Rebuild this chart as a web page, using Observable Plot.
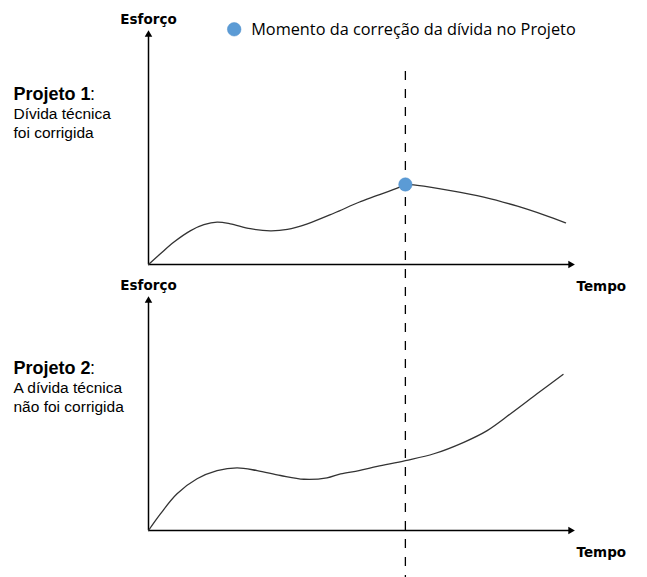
<!DOCTYPE html>
<html>
<head>
<meta charset="utf-8">
<script src="https://cdn.jsdelivr.net/npm/d3@7"></script>
<script src="https://cdn.jsdelivr.net/npm/@observablehq/plot@0.6"></script>
<style>
  html, body { margin: 0; padding: 0; background: #fff; }
  #chart svg { display: block; }
</style>
</head>
<body>
<div id="chart"></div>
<script>
// ---- Data ----
const projetos = ["Projeto 1", "Projeto 2"];
const descricoes = ["Dívida técnica\nfoi corrigida", "A dívida técnica\nnão foi corrigida"];
const eixoX = "Tempo";
const eixoY = "Esforço";
const legendaTexto = "Momento da correção da dívida no Projeto";

// Projeto 1: effort curve (debt corrected)
const tempo1 =   [0, 2.8, 5.9, 9.9, 13.0, 16.1, 19.2, 23.9, 28.6, 32.6, 37.3, 43.5, 49.4, 53.7, 58.8, 60.3, 63.1, 70.9, 78.7, 86.6, 92.8, 97.9];
const esforco1 = [0, 4.6, 9.5, 14.5, 17.0, 18.1, 17.4, 15.3, 14.4, 15.0, 17.4, 21.9, 26.6, 29.5, 33.0, 34.2, 33.8, 31.6, 28.8, 24.9, 21.2, 17.8];

// Projeto 2: effort curve (debt not corrected)
const tempo2 =   [0, 2.8, 6.7, 11.4, 16.1, 20.8, 25.5, 31.0, 36.5, 41.9, 45.1, 49.4, 53.7, 60.3, 67.0, 74.0, 79.5, 85.0, 91.2, 97.3];
const esforco2 = [0, 7.1, 15.7, 22.1, 25.6, 26.8, 25.6, 23.5, 21.9, 22.5, 24.2, 25.6, 27.4, 29.9, 32.8, 37.7, 42.7, 49.9, 58.4, 66.7];

// Moment of debt correction (Projeto 1)
const correcaoTempo = [60.3];
const correcaoEsforco = [34.2];

// ---- Tables built from the arrays ----
const curvas = [
  ...tempo1.map((t, i) => ({projeto: projetos[0], tempo: t, esforco: esforco1[i]})),
  ...tempo2.map((t, i) => ({projeto: projetos[1], tempo: t, esforco: esforco2[i]}))
];
const correcao = correcaoTempo.map((t, i) => ({projeto: projetos[0], tempo: t, esforco: correcaoEsforco[i]}));
const legenda = [{projeto: projetos[0], texto: legendaTexto}];

const labelFont = "DejaVu Sans, sans-serif";
const arialFont = "Liberation Sans, Arial, sans-serif";
const tituloDy = [69, 77.3];
const descDy = [107, 115];

const marks = [
  // axes
  Plot.ruleY([0], {stroke: "#000", strokeWidth: 1.5, insetRight: 4}),
  Plot.ruleX([0], {stroke: "#000", strokeWidth: 1.5, insetTop: 4}),
  Plot.dot([0], {y: d => d, frameAnchor: "right", symbol: "triangle", rotate: 90, r: 2.8, fill: "#000", stroke: null, dx: -4}),
  Plot.dot([0], {x: d => d, frameAnchor: "top", symbol: "triangle", r: 2.8, fill: "#000", stroke: null, dy: 4}),
  Plot.text([eixoY], {text: d => d, frameAnchor: "top-left", textAnchor: "middle", lineAnchor: "bottom", dy: -6.5,
    fontFamily: labelFont, fontWeight: "bold", fontSize: 13.5, fill: "#000"}),
  Plot.text([eixoX], {text: d => d, frameAnchor: "bottom-right", textAnchor: "start", lineAnchor: "bottom", dx: 2, dy: 26.5,
    fontFamily: labelFont, fontWeight: "bold", fontSize: 13.5, fill: "#000"}),
  // dashed correction line
  Plot.ruleX(correcao, {x: "tempo", fy: "projeto", insetTop: 41, insetBottom: -313, stroke: "#000",
    strokeWidth: 1.3, strokeDasharray: "9,9"}),
  // curves
  Plot.line(curvas, {x: "tempo", y: "esforco", z: "projeto", fy: "projeto", curve: "catmull-rom",
    stroke: "#333", strokeWidth: 1.3}),
  // correction point
  Plot.dot(correcao, {x: "tempo", y: "esforco", fy: "projeto", r: 6.7, fill: "#5b9bd5", stroke: "#4f8fca", strokeWidth: 0.5}),
  // legend
  Plot.dot(legenda, {fy: "projeto", frameAnchor: "top-left", dx: 85.7, dy: -1.2, r: 6.8, fill: "#5b9bd5", stroke: "#4f8fca", strokeWidth: 0.5}),
  Plot.text(legenda, {fy: "projeto", text: "texto", frameAnchor: "top-left", textAnchor: "start", lineAnchor: "middle",
    dx: 102.7, dy: -0.7, fontFamily: "Open Sans, sans-serif", fontSize: 16.3, fill: "#000"})
];

projetos.forEach((p, i) => {
  const d = [{projeto: p, titulo: p, desc: descricoes[i]}];
  marks.push(
    Plot.text(d, {fy: "projeto", text: "titulo", frameAnchor: "top-left", textAnchor: "start", lineAnchor: "bottom",
      dx: -135, dy: tituloDy[i], fontFamily: arialFont, fontWeight: "bold", fontSize: 18, fill: "#000"}),
    Plot.text(d, {fy: "projeto", text: () => ":", frameAnchor: "top-left", textAnchor: "start", lineAnchor: "bottom",
      dx: -58.5, dy: tituloDy[i], fontFamily: arialFont, fontSize: 18, fill: "#000"}),
    Plot.text(d, {fy: "projeto", text: "desc", frameAnchor: "top-left", textAnchor: "start", lineAnchor: "bottom",
      dx: -135, dy: descDy[i], lineHeight: 1.19, fontFamily: arialFont, fontSize: 15.5, fill: "#000"})
  );
});

const chart = Plot.plot({
  width: 647,
  height: 577,
  marginTop: 30,
  marginBottom: 47,
  marginLeft: 148,
  marginRight: 73,
  x: {domain: [0, 100], axis: null},
  y: {domain: [0, 100], axis: null},
  fy: {domain: projetos, paddingInner: 32 / 266, paddingOuter: 0, axis: null, label: null},
  style: {background: "#fff", overflow: "visible"},
  marks
});
document.getElementById("chart").appendChild(chart);
</script>
</body>
</html>
